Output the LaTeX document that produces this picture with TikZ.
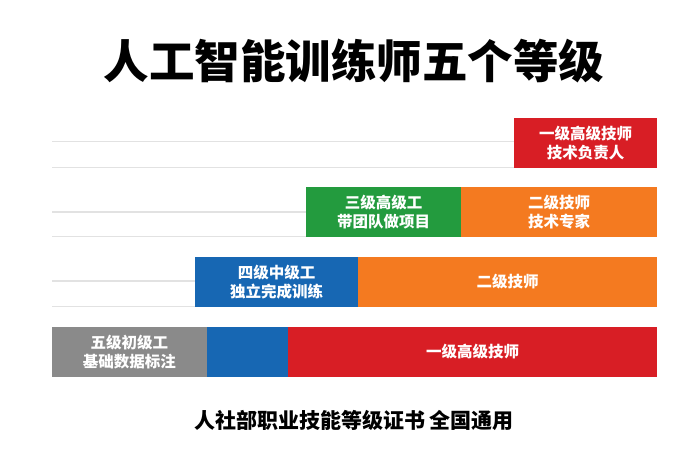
\documentclass[tikz,border=0pt]{standalone}
\usepackage{fontspec}
\newfontfamily\cjk{Noto Sans CJK SC}
\definecolor{lvred}{HTML}{D81E25}
\definecolor{lvorange}{HTML}{F47A20}
\definecolor{lvgreen}{HTML}{239B3E}
\definecolor{lvblue}{HTML}{1767B3}
\definecolor{lvgray}{HTML}{8A8A8A}
\definecolor{lvline}{HTML}{E2E2E2}
\begin{document}
\begin{tikzpicture}[x=1pt, y=-1pt,
  lvbox/.style={rectangle, minimum height=50pt, inner sep=0pt, text=white, align=center,
    font=\cjk\bfseries\fontsize{15.5}{18.5}\selectfont},
  guide/.style={draw=lvline, line width=1.3pt}]
  \useasboundingbox[fill=white] (0,0) rectangle (700,454);
  \node[font=\cjk\bfseries\fontsize{45.5}{50}\selectfont] (title) at (354,61) {人工智能训练师五个等级};
  % level 1
  \node[lvbox, fill=lvred, minimum width=143pt] (r1) at (585.5,143) {一级高级技师\\技术负责人};
  % level 2 / 3
  \node[lvbox, fill=lvgreen, minimum width=155pt] (r2a) at (383.5,212) {三级高级工\\带团队做项目};
  \node[lvbox, fill=lvorange, minimum width=196pt] (r2b) at (559,212) {二级技师\\技术专家};
  % level 4
  \node[lvbox, fill=lvblue, minimum width=163pt] (r3a) at (276.5,282) {四级中级工\\独立完成训练};
  \node[lvbox, fill=lvorange, minimum width=299pt] (r3b) at (507.5,282) {二级技师};
  % level 5
  \node[lvbox, fill=lvgray, minimum width=154.5pt] (r4a) at (129.25,352) {五级初级工\\基础数据标注};
  \node[lvbox, fill=lvblue, minimum width=81.5pt] (r4b) at (247.25,352) {};
  \node[lvbox, fill=lvred, minimum width=369pt] (r4c) at (472.5,352) {一级高级技师};
  \node[font=\cjk\bfseries\fontsize{21}{24}\selectfont] (foot) at (354,420) {人社部职业技能等级证书\ 全国通用};
  % guide lines
  \coordinate (g1) at (52,141.5);
  \coordinate (g2) at (52,167.5);
  \coordinate (g3) at (52,212);
  \coordinate (g4) at (52,236.5);
  \coordinate (g5) at (52,281);
  \coordinate (g6) at (52,306.5);
  \path[guide] (g1) -- (g1 -| r1.west);
  \path[guide] (g2) -- (g2 -| r1.west);
  \path[guide] (g3) -- (g3 -| r2a.west);
  \path[guide] (g4) -- (g4 -| r2a.west);
  \path[guide] (g5) -- (g5 -| r3a.west);
  \path[guide] (g6) -- (g6 -| r3a.west);
\end{tikzpicture}
\end{document}
